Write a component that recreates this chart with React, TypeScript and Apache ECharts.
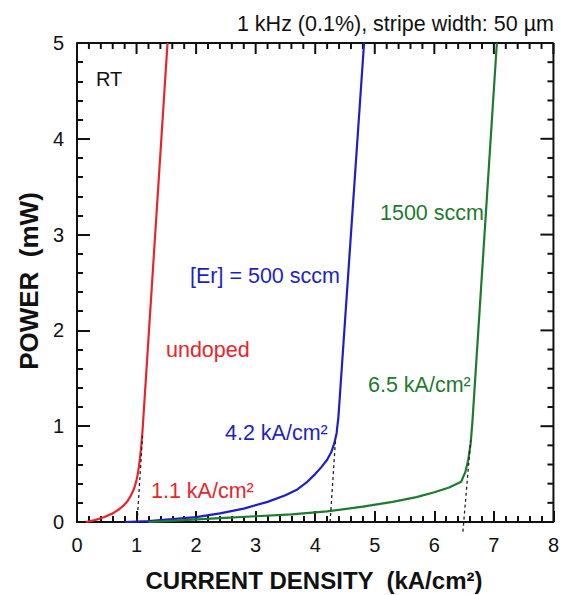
import React, { useEffect, useRef } from "react";
import * as echarts from "echarts";

const X_TICKS = [0, 1, 2, 3, 4, 5, 6, 7, 8];
const Y_TICKS = [0, 1, 2, 3, 4, 5];
const MINOR_SPLIT = 5;

const RED_X = [0.15, 0.3, 0.45, 0.6, 0.7, 0.78, 0.85, 0.9, 0.94, 0.97, 1.0, 1.02, 1.04, 1.06, 1.08, 1.1, 1.52];
const RED_Y = [0, 0.02, 0.05, 0.09, 0.13, 0.17, 0.22, 0.27, 0.32, 0.37, 0.44, 0.5, 0.58, 0.68, 0.8, 0.95, 5.0];

const BLUE_X = [0.8, 1.2, 1.6, 2.0, 2.4, 2.8, 3.2, 3.5, 3.7, 3.85, 4.0, 4.1, 4.2, 4.27, 4.32, 4.36, 4.39, 4.82];
const BLUE_Y = [0, 0.01, 0.03, 0.05, 0.09, 0.14, 0.21, 0.28, 0.34, 0.41, 0.5, 0.57, 0.65, 0.73, 0.82, 0.93, 1.1, 5.0];

const GREEN_X = [1.2, 1.8, 2.4, 3.0, 3.6, 4.2, 4.8, 5.3, 5.7, 6.0, 6.25, 6.45, 6.52, 6.57, 6.61, 6.64, 7.05];
const GREEN_Y = [0, 0.02, 0.04, 0.06, 0.08, 0.11, 0.16, 0.21, 0.26, 0.31, 0.36, 0.42, 0.52, 0.65, 0.82, 1.05, 5.0];

// threshold extrapolation lines [x0, y0, x1, y1]
const RED_TH = [1.01, 0, 1.1, 0.9];
const BLUE_TH = [4.25, 0, 4.34, 0.85];
const GREEN_TH = [6.48, -0.1, 6.61, 0.85];

const FONT = "'Liberation Sans', Arial, Helvetica, sans-serif";
const RED = "#e8242c";
const BLUE = "#1f1fc4";
const GREEN = "#1e7a30";

const zip = (xs: number[], ys: number[]) => xs.map((x, i) => [x, ys[i]]);
const seg = (a: number[]) => [[a[0], a[1]], [a[2], a[3]]];

// [value, isMajor] for major ticks and their minor subdivisions
function tickList(ticks: number[]) {
  const out: number[][] = [];
  for (let i = 0; i < ticks.length; i++) {
    out.push([ticks[i], 1]);
    if (i < ticks.length - 1) {
      const step = (ticks[i + 1] - ticks[i]) / MINOR_SPLIT;
      for (let k = 1; k < MINOR_SPLIT; k++) out.push([ticks[i] + step * k, 0]);
    }
  }
  return out;
}

function makeAxis(ticks: number[], majorLen: number) {
  return {
    type: "value",
    min: ticks[0],
    max: ticks[ticks.length - 1],
    interval: 1,
    axisLine: { show: true, lineStyle: { color: "#111", width: 2 } },
    axisTick: { show: true, inside: true, length: majorLen, lineStyle: { color: "#111", width: 2 } },
    minorTick: { show: true, splitNumber: MINOR_SPLIT, length: 6, lineStyle: { color: "#111", width: 2 } },
    splitLine: { show: false },
    axisLabel: { show: true, fontSize: 20, color: "#111", fontFamily: FONT, margin: 13, showMaxLabel: true, showMinLabel: true },
  };
}

export default function App() {
  const ref = useRef<HTMLDivElement>(null);
  useEffect(() => {
    if (!ref.current) return;
    const chart = echarts.init(ref.current, undefined, { renderer: "svg" });
    const xMin = X_TICKS[0];
    const xMax = X_TICKS[X_TICKS.length - 1];
    const yMin = Y_TICKS[0];
    const yMax = Y_TICKS[Y_TICKS.length - 1];

    // mirrored ticks and frame on the top and right edges
    const topTicks = {
      type: "custom",
      clip: false,
      data: tickList(X_TICKS).map((d) => [d[0], yMax, d[1]]),
      renderItem: (p: any, api: any) => {
        const c = api.coord([api.value(0), api.value(1)]);
        const major = api.value(2) === 1;
        const len = major ? 11 : 6;
        return {
          type: "line",
          shape: { x1: c[0], y1: c[1], x2: c[0], y2: c[1] + len },
          style: { stroke: "#111", lineWidth: 2 },
        };
      },
    };
    const rightTicks = {
      type: "custom",
      clip: false,
      data: tickList(Y_TICKS).map((d) => [xMax, d[0], d[1]]),
      renderItem: (p: any, api: any) => {
        const c = api.coord([api.value(0), api.value(1)]);
        const major = api.value(2) === 1;
        const len = major ? 13 : 6;
        return {
          type: "line",
          shape: { x1: c[0], y1: c[1], x2: c[0] - len, y2: c[1] },
          style: { stroke: "#111", lineWidth: 2 },
        };
      },
    };
    const frame = {
      type: "custom",
      clip: false,
      data: [[xMin, yMax, xMax, yMax], [xMax, yMin, xMax, yMax]],
      renderItem: (p: any, api: any) => {
        const a = api.coord([api.value(0), api.value(1)]);
        const b = api.coord([api.value(2), api.value(3)]);
        return {
          type: "line",
          shape: { x1: a[0], y1: a[1], x2: b[0], y2: b[1] },
          style: { stroke: "#111", lineWidth: 2 },
        };
      },
    };

    const curve = (name: string, data: number[][], color: string) => ({
      name,
      type: "line",
      data,
      smooth: false,
      showSymbol: false,
      symbol: "none",
      lineStyle: { color, width: 2.2 },
      z: 3,
    });
    const dash = (data: number[][]) => ({
      type: "line",
      data,
      showSymbol: false,
      symbol: "none",
      clip: false,
      lineStyle: { color: "#222", width: 1.3, type: [3, 3] },
      z: 4,
    });
    const txt = (text: string, x: number, y: number, color: string, size = 21.5, extra: any = {}) => ({
      type: "text",
      x,
      y,
      style: {
        text,
        fill: color,
        font: `${extra.bold ? "bold " : ""}${size}px ${FONT}`,
        textAlign: extra.align || "left",
        textVerticalAlign: "middle",
      },
      rotation: extra.rotation || 0,
      z: 10,
    });
    chart.setOption({
      animation: false,
      grid: { left: 77, right: 7, top: 43, bottom: 73 },
      xAxis: makeAxis(X_TICKS, 11),
      yAxis: makeAxis(Y_TICKS, 13),
      series: [
        curve("undoped", zip(RED_X, RED_Y), RED),
        curve("500 sccm", zip(BLUE_X, BLUE_Y), BLUE),
        curve("1500 sccm", zip(GREEN_X, GREEN_Y), GREEN),
        dash(seg(RED_TH)),
        dash(seg(BLUE_TH)),
        dash(seg(GREEN_TH)),
        frame,
        topTicks,
        rightTicks,
      ],
      graphic: [
        txt("1 kHz (0.1%), stripe width: 50 \u00b5m", 554, 24, "#111", 21.5, { align: "right" }),
        txt("RT", 96, 79, "#111", 20),
        txt("undoped", 166, 350, RED),
        txt("1.1 kA/cm\u00b2", 151, 491, RED),
        txt("[Er] = 500 sccm", 190, 276, BLUE),
        txt("4.2 kA/cm\u00b2", 225, 433, BLUE),
        txt("1500 sccm", 380, 213, GREEN),
        txt("6.5 kA/cm\u00b2", 368, 385, GREEN),
        txt("CURRENT DENSITY  (kA/cm\u00b2)", 314, 580, "#111", 24, { bold: true, align: "center" }),
        txt("POWER  (mW)", 29, 281, "#111", 26, { bold: true, align: "center", rotation: Math.PI / 2 }),
      ],
    });
    return () => chart.dispose();
  }, []);
  return <div ref={ref} style={{ width: 562, height: 595, position: "absolute", left: 0, top: 0 }} />;
}
